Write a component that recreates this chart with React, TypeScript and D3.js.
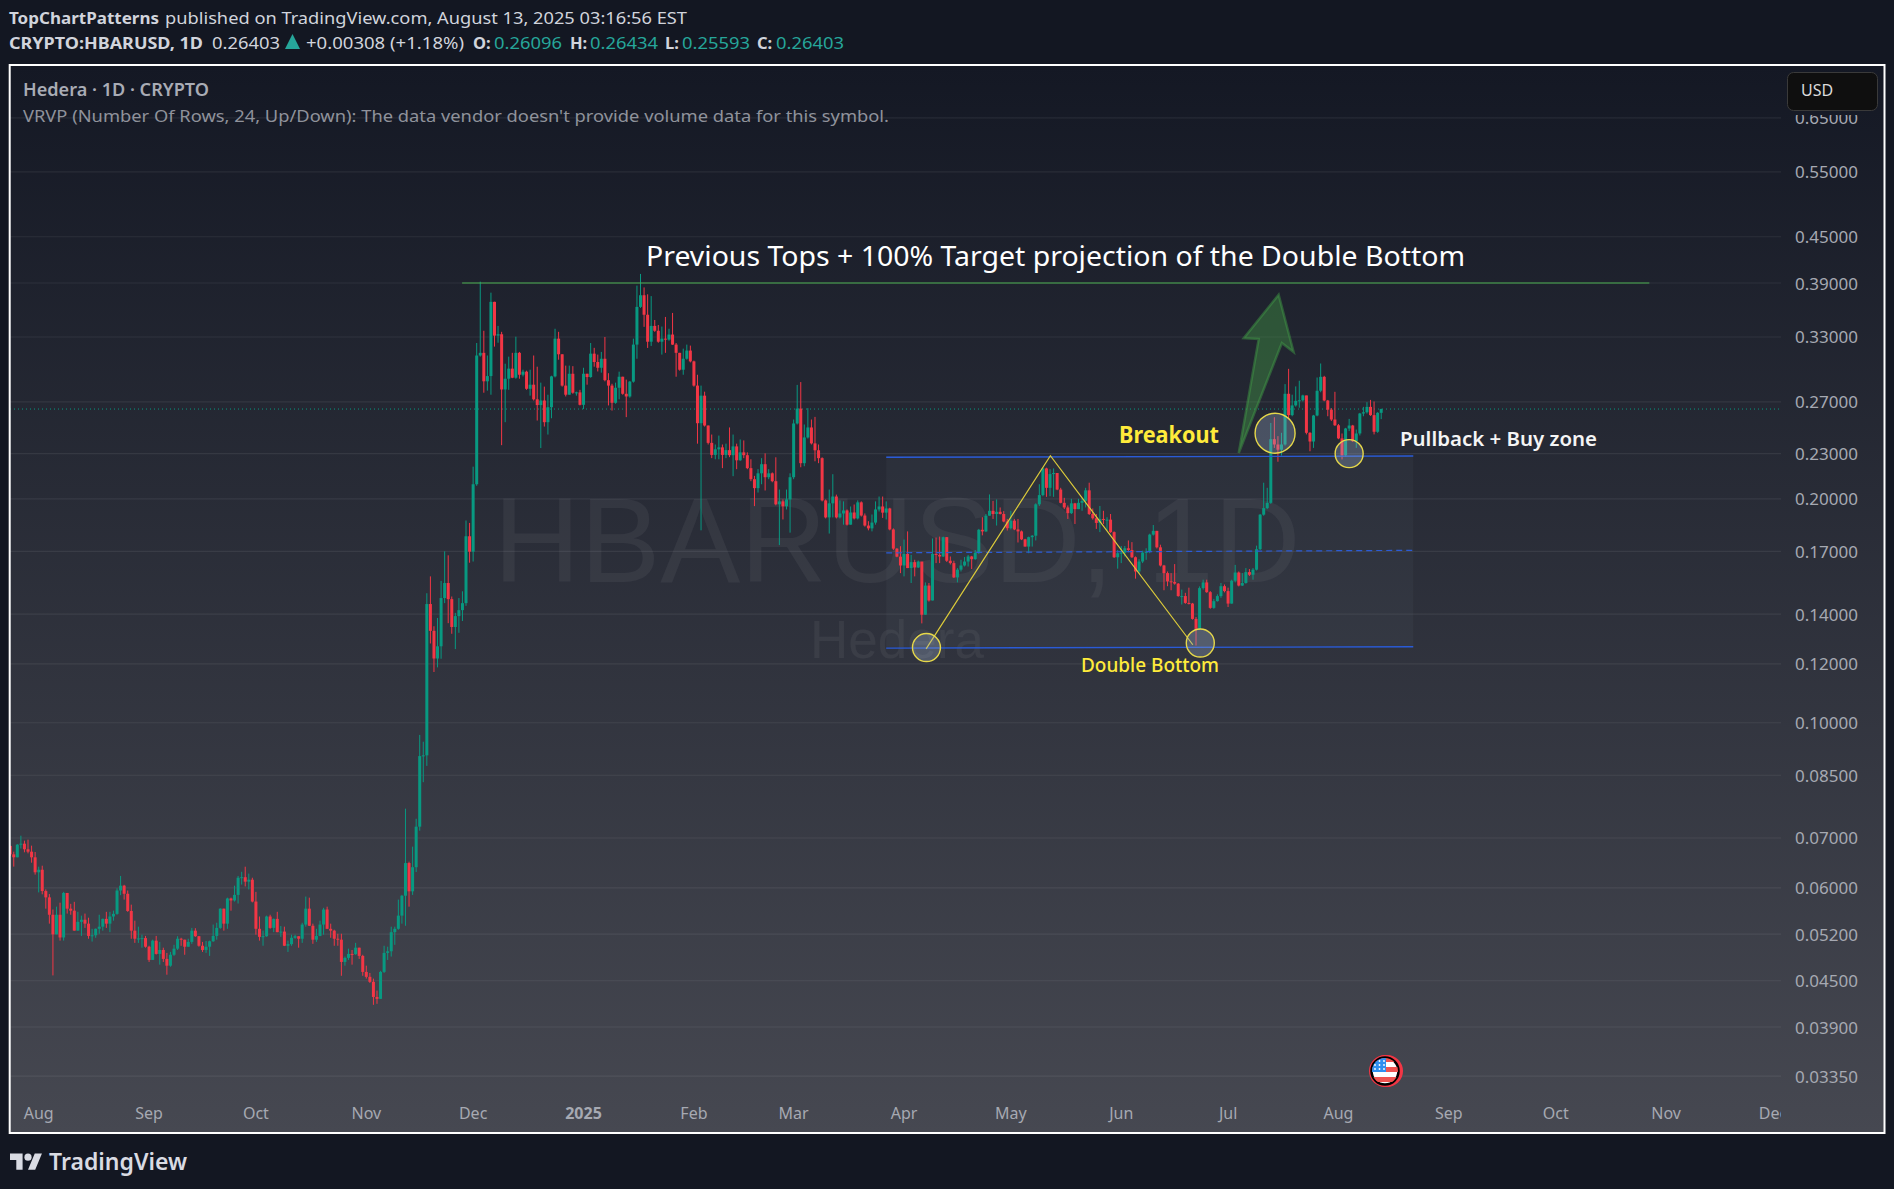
import React from "react";
import * as d3 from "d3";

const W = 1894, H = 1189;

// Daily OHLC of CRYPTO:HBARUSD, first bar 24 Jul 2024, last bar 13 Aug 2025. Open = previous close.
const firstOpen = 0.0683;
const closes = [
.06655,.06594,.06857,.06878,.06760,.06710,.06594,.06295,.06345,.05940,
.05825,.05520,.05195,.05520,.05145,.05905,.05625,.05590,.05255,.05400,
.05435,.05370,.05170,.05180,.05285,.05320,.05450,.05370,.05490,.05535,
.05950,.06040,.05890,.05585,.05255,.05125,.05130,.05135,.05000,.04800,
.05095,.04890,.04950,.04815,.04715,.04877,.04970,.05125,.05110,.05000,
.05075,.05255,.05165,.05015,.04950,.05000,.05085,.05170,.05300,.05625,
.05370,.05805,.05770,.05870,.06190,.06200,.06115,.06152,.05750,.05285,
.05155,.05165,.05490,.05300,.05450,.05230,.05240,.05015,.05040,.05140,
.05165,.05125,.05355,.05625,.05335,.05110,.05170,.05355,.05610,.05285,
.05255,.05125,.05110,.04770,.04830,.04890,.04885,.04985,.04860,.04625,
.04555,.04485,.04280,.04255,.04625,.04905,.04930,.05230,.05285,.05505,
.05855,.06478,.05935,.06395,.07250,.0902,.0904,.1444,.1329,.1220,
.1267,.1471,.1541,.1466,.1345,.1391,.1417,.1448,.1781,.1698,
.2092,.3116,.3142,.2877,.2924,.3679,.3314,.3328,.2805,.2900,
.2992,.2909,.3142,.2936,.2964,.2811,.2847,.2721,.2673,.2711,
.2535,.2655,.2921,.3283,.3128,.2839,.2760,.2945,.2777,.2780,
.2675,.2945,.2915,.3134,.3054,.3000,.3085,.2887,.2839,.2692,
.2820,.2918,.2768,.2745,.2874,.3223,.3622,.3755,.3535,.3252,
.3415,.3364,.3252,.3283,.3273,.3325,.3223,.3142,.2982,.3085,
.3164,.3060,.2839,.2527,.2752,.2509,.2378,.2291,.2331,.2345,
.2291,.2325,.2289,.2352,.2253,.2309,.2289,.2199,.2125,.2067,
.2164,.2226,.2138,.2164,.2112,.1966,.1984,.1954,.1996,.2138,
.2525,.2644,.2233,.2418,.2494,.2374,.2324,.2268,.1990,.1888,
.1972,.2014,.1888,.1911,.1929,.1846,.1917,.1882,.1978,.1899,
.1841,.1825,.1858,.1935,.1953,.1916,.1941,.1819,.1714,.1672,
.1627,.1686,.1614,.1644,.1617,.1647,.1397,.1529,.1460,.1686,
.1681,.1673,.1776,.1651,.1639,.1568,.1606,.1627,.1647,.1673,
.1659,.1693,.1817,.1808,.1898,.1927,.1908,.1921,.1908,.1864,
.1826,.1869,.1819,.1808,.1764,.1725,.1776,.1784,.1966,.2023,
.2197,.2069,.2159,.2166,.2058,.1975,.1947,.1913,.1972,.1937,
.1975,.1987,.2053,.1908,.1883,.1856,.1879,.1875,.1875,.1804,
.1669,.1690,.1693,.1716,.1707,.1669,.1597,.1647,.1693,.1697,
.1790,.1811,.1721,.1627,.1589,.1549,.1546,.1538,.1480,.1480,
.1449,.1446,.1379,.1337,.1517,.1544,.1498,.1427,.1457,.1480,
.1526,.1503,.1446,.1552,.1592,.1529,.1541,.1594,.1581,.1606,
.1711,.1904,.1943,.1975,.2405,.2366,.2328,.2366,.2768,.2591,
.2670,.2708,.2713,.2754,.2453,.2388,.2588,.2794,.2917,.2711,
.2635,.2556,.2511,.2411,.2288,.2486,.2509,.2390,.2448,.2604,
.2614,.2658,.2591,.2461,.26096,.26403];

const highs = [
.06836,.0671,.0687,.0705,.06943,.06964,.06836,.06703,.06405,.06425,
.0597,.05885,.0561,.0566,.0573,.05925,.05905,.0571,.05745,.0557,
.05505,.0554,.0547,.05285,.0529,.0552,.05455,.0557,.0557,.0559,
.0599,.06225,.06055,.0595,.05695,.0542,.0532,.0519,.0517,.05015,
.0511,.0517,.05075,.04985,.04905,.0492,.0503,.05165,.0514,.0511,
.05125,.053,.05295,.0517,.05075,.0509,.05095,.05355,.05385,.0563,
.05625,.0582,.0582,.0604,.06225,.06305,.06405,.0627,.0619,.05925,
.0549,.05255,.05505,.0552,.05455,.0557,.0533,.0532,.05095,.0519,
.0519,.05165,.05385,.0584,.0582,.0537,.05285,.0542,.0564,.0566,
.0537,.0527,.05205,.05205,.0485,.0497,.0495,.0506,.04985,.04877,
.04715,.0461,.0453,.04365,.0464,.05015,.05,.0532,.0532,.05785,
.0587,.07665,.06505,.06815,.0743,.0963,.0943,.1493,.1573,.1348,
.1383,.1551,.17,.1679,.1478,.1405,.1471,.1502,.187,.1856,
.2209,.3239,.3916,.3364,.3116,.3785,.368,.3415,.3353,.3038,
.3105,.3142,.3303,.3151,.2982,.2973,.2982,.3116,.301,.2865,
.283,.276,.2927,.3385,.3353,.3128,.302,.302,.3015,.2786,
.2802,.3,.2945,.3239,.3191,.3125,.3151,.33,.295,.2855,
.2865,.2964,.2918,.2892,.288,.3283,.3869,.4011,.3847,.3766,
.3745,.3478,.3425,.3408,.3511,.3385,.3555,.3239,.3142,.3183,
.3223,.3213,.3067,.2936,.2839,.2786,.2509,.244,.2366,.2432,
.2366,.2372,.2494,.244,.2372,.2403,.2396,.2309,.226,.2147,
.2192,.2268,.2302,.2192,.217,.2274,.2058,.1996,.2058,.2164,
.2556,.2845,.287,.2517,.2648,.2556,.2577,.2366,.2274,.1996,
.2058,.2158,.2026,.199,.1984,.1935,.1953,.1965,.199,.1984,
.1911,.1866,.1905,.1984,.2014,.2014,.1984,.1945,.1825,.1717,
.1727,.1763,.1808,.1681,.1656,.1652,.1622,.1544,.1541,.1769,
.1774,.1779,.1779,.1776,.1673,.1651,.1614,.1656,.167,.1681,
.1676,.1707,.1822,.1889,.1908,.2027,.1987,.1996,.1947,.1925,
.1879,.1927,.1879,.1879,.1813,.1767,.1779,.1788,.1972,.2092,
.2202,.2202,.2192,.2197,.2166,.2069,.2006,.1959,.2,.1975,
.2,.2006,.2069,.2102,.1941,.1908,.1956,.1927,.1889,.1908,
.1808,.1707,.1728,.1728,.1758,.1749,.1673,.1659,.1703,.1716,
.1795,.1844,.1811,.1735,.163,.1597,.1589,.1634,.1541,.151,
.1495,.1519,.1449,.1387,.1525,.1557,.1557,.1503,.1467,.1488,
.1541,.1534,.1519,.1557,.163,.1597,.1589,.1614,.1609,.1614,
.173,.1908,.2102,.2069,.2529,.2574,.2428,.2453,.2852,.299,
.276,.2832,.2882,.276,.2752,.2458,.2593,.2911,.304,.2926,
.2716,.2648,.2785,.2521,.2448,.2491,.2561,.2514,.2478,.2609,
.2658,.2697,.2716,.2703,.2615,.26434];

const lows = [
.0662,.06407,.06594,.06775,.06697,.06675,.06485,.0625,.05915,.0588,
.05625,.0537,.04575,.05195,.05095,.05095,.0554,.0552,.05255,.05255,
.0517,.053,.05125,.0508,.0514,.05205,.05255,.053,.0523,.0542,
.0552,.05865,.05785,.0557,.05125,.0506,.0506,.04985,.04985,.0477,
.048,.0488,.0473,.0477,.04585,.047,.0486,.0495,.05015,.04877,
.05,.05045,.05155,.05,.0492,.04905,.0486,.05075,.0511,.05285,
.05255,.05285,.0559,.0575,.05715,.0606,.06025,.0597,.05735,.0519,
.05095,.05015,.05155,.05285,.0523,.0523,.05155,.0501,.0492,.05015,
.05125,.04985,.0506,.0532,.0533,.05045,.05075,.05165,.0519,.0528,
.0514,.05015,.05015,.0457,.04715,.048,.0473,.04877,.04815,.0457,
.0453,.0447,.04177,.0419,.04255,.0461,.048,.0485,.0503,.0527,
.0537,.05335,.0566,.0587,.063,.0716,.0832,.0875,.1278,.117,
.1187,.1219,.1448,.1361,.1317,.1256,.1321,.137,.1436,.1641,
.1647,.2082,.3105,.2777,.2795,.276,.3203,.3242,.2361,.2535,
.2802,.2905,.29,.29,.2921,.2802,.2752,.2711,.2548,.234,
.2501,.244,.2566,.2912,.3076,.283,.2745,.276,.2768,.2752,
.267,.264,.2847,.2909,.301,.2966,.2955,.2877,.267,.2628,
.2684,.2721,.276,.2575,.2735,.2865,.3085,.361,.3405,.319,
.321,.3353,.3242,.3125,.3142,.3262,.322,.2918,.2973,.2936,
.3076,.305,.283,.2372,.1814,.2501,.2366,.2268,.226,.226,
.2199,.2268,.2275,.2145,.2192,.2249,.2268,.2192,.2112,.1955,
.2039,.2092,.2052,.2125,.2105,.196,.1733,.1876,.1935,.1801,
.2125,.2517,.2205,.2212,.241,.2366,.2246,.2233,.1984,.1882,
.1796,.1888,.1882,.1882,.1846,.1841,.1846,.1876,.1876,.1893,
.1835,.1814,.1808,.1846,.1923,.1885,.1876,.1814,.1707,.1669,
.1589,.1573,.1614,.1541,.1573,.1614,.136,.1397,.1455,.146,
.1639,.1639,.167,.1645,.1632,.1565,.1544,.1597,.1622,.1622,
.1609,.1656,.1686,.1786,.1804,.1898,.1879,.1841,.1905,.186,
.1813,.1819,.1815,.1747,.176,.1725,.169,.1725,.1758,.1956,
.2016,.2012,.2016,.2012,.2054,.1972,.1937,.1879,.1908,.185,
.1937,.1927,.1947,.1902,.1875,.1822,.1804,.185,.1813,.18,
.1665,.1611,.1639,.1673,.1695,.1665,.1562,.1589,.1639,.1656,
.169,.1785,.1715,.1622,.1507,.1526,.1507,.1533,.1477,.1442,
.1445,.1442,.1376,.127,.1333,.151,.1495,.1423,.1423,.1455,
.1472,.1497,.1431,.1446,.1544,.1525,.1527,.1538,.1575,.1557,
.1602,.1707,.1898,.1937,.1969,.2341,.2243,.2286,.2358,.2556,
.2582,.266,.2651,.2703,.2441,.2317,.2341,.2582,.2781,.2705,
.2582,.2544,.2505,.2405,.2259,.2276,.2466,.2385,.2341,.2433,
.2582,.2604,.2585,.2441,.2453,.25593];

const priceTicks = [0.65,0.55,0.45,0.39,0.33,0.27,0.23,0.20,0.17,0.14,0.12,0.10,0.085,0.07,0.06,0.052,0.045,0.039,0.0335];
const timeTicks: [string, number, boolean][] = [
  ["Aug",8,false],["Sep",39,false],["Oct",69,false],["Nov",100,false],["Dec",130,false],["2025",161,true],
  ["Feb",192,false],["Mar",220,false],["Apr",251,false],["May",281,false],["Jun",312,false],["Jul",342,false],
  ["Aug",373,false],["Sep",404,false],["Oct",434,false],["Nov",465,false],["Dec",495,false],
];

// Drawings as [bar index, price]
const targetLine: [number, number][] = [[126.9,0.39],[460.3,0.39]];
const rangeTop: [number, number][] = [[246,0.2274],[394,0.2283]];
const rangeMid: [number, number][] = [[246,0.1692],[394,0.1705]];
const rangeBottom: [number, number][] = [[246,0.1260],[394,0.1265]];
const doubleBottom: [number, number][] = [[257.2,0.1257],[292.1,0.2285],[332.1,0.1273]];
const circles: [number, number, number][] = [[257.3,0.1262,14],[334.2,0.1280,14],[355.2,0.2450,20],[376,0.2300,14]];
const arrow: [number, number][] = [[345,0.2305],[350.6,0.3280],[346.4,0.3288],[356.2,0.3760],[360.4,0.3150],[357.1,0.3238]];

const x = d3.scaleLinear().domain([0, 385]).range([10.2, 1381.2]);
const y = d3.scaleLog().domain([0.39, 0.039]).range([283, 1027]);
const UI = "'Noto Sans', 'Open Sans', sans-serif";
const line = d3.line<[number, number]>().x(d => x(d[0])).y(d => y(d[1]));

const GREEN = "#089981", RED = "#f23645", BLUE = "#2a5bd7", YEL = "#ffeb3b";
const fmt = (p: number) => p.toFixed(5);
const starCols = [0, 1, 2];

export default function App() {
  const lastY = y(closes[closes.length - 1]);
  return (
    <svg width={W} height={H} viewBox={`0 0 ${W} ${H}`} style={{ position: "absolute", left: 0, top: 0, display: "block" }} fontFamily={UI}>
      <defs>
        <linearGradient id="pane" x1="0" y1="0" x2="0" y2="1">
          <stop offset="0" stopColor="#141824" />
          <stop offset="1" stopColor="#464851" />
        </linearGradient>
        <clipPath id="plot"><rect x={10} y={66} width={1771} height={1066} /></clipPath>
        <clipPath id="time"><rect x={10} y={1090} width={1771} height={42} /></clipPath>
        <clipPath id="flag"><circle cx={1385} cy={1071} r={13} /></clipPath>
        <clipPath id="prices"><rect x={1785} y={115} width={98} height={1000} /></clipPath>
      </defs>
      <rect width={W} height={H} fill="#131722" />
      <rect x={10} y={66} width={1874} height={1066} fill="url(#pane)" />

      {priceTicks.map(p => (
        <line key={p} x1={10} x2={1781} y1={y(p)} y2={y(p)} stroke="#ffffff" strokeOpacity={0.07} strokeWidth={1.2} />
      ))}

      <g fill="#ffffff" fillOpacity={0.055} fontFamily="'Liberation Sans', sans-serif" textAnchor="middle">
        <text x={897} y={582} fontSize={120}>HBARUSD, 1D</text>
        <text x={897} y={658} fontSize={53}>Hedera</text>
      </g>

      <rect x={x(rangeTop[0][0])} y={y(rangeTop[1][1])} width={x(rangeTop[1][0]) - x(rangeTop[0][0])} height={y(rangeBottom[1][1]) - y(rangeTop[1][1])} fill="#787b86" fillOpacity={0.08} />

      <line x1={10} x2={1781} y1={lastY} y2={lastY} stroke={GREEN} strokeWidth={1} strokeDasharray="1 3" />

      <g clipPath="url(#plot)">
        {closes.map((c, i) => {
          const o = i === 0 ? firstOpen : closes[i - 1];
          const col = c >= o ? GREEN : RED;
          const top = y(Math.max(o, c)), bot = y(Math.min(o, c));
          return (
            <g key={i}>
              <line x1={x(i)} x2={x(i)} y1={y(highs[i])} y2={y(lows[i])} stroke={col} strokeWidth={1} />
              <rect x={x(i) - 1.5} y={top} width={3} height={Math.max(bot - top, 1)} fill={col} />
            </g>
          );
        })}
      </g>

      <path d={line(targetLine)!} stroke="#4caf50" strokeWidth={1.2} fill="none" />
      <path d={line(rangeTop)!} stroke={BLUE} strokeWidth={1.4} fill="none" />
      <path d={line(rangeBottom)!} stroke={BLUE} strokeWidth={1.4} fill="none" />
      <path d={line(rangeMid)!} stroke={BLUE} strokeWidth={1.2} strokeDasharray="6 4" fill="none" />
      <path d={line(doubleBottom)!} stroke="#dccb3a" strokeWidth={1.2} fill="none" />
      <path d={line(arrow)! + "Z"} fill="#43a047" fillOpacity={0.4} stroke="#43a047" strokeOpacity={0.45} strokeWidth={2.5} strokeLinejoin="miter" />
      {circles.map((c, i) => (
        <circle key={i} cx={x(c[0])} cy={y(c[1])} r={c[2]} fill="#a0b4d2" fillOpacity={0.3} stroke="#e6d84a" strokeWidth={1.4} />
      ))}

      <text x={646} y={266} fontSize={27} fill="#ffffff" textLength={819} lengthAdjust="spacingAndGlyphs">Previous Tops + 100% Target projection of the Double Bottom</text>
      <text x={1119} y={443} fontSize={23} fontWeight={700} fill={YEL} textLength={100} lengthAdjust="spacingAndGlyphs">Breakout</text>
      <text x={1081} y={672} fontSize={20} fontWeight={500} fill={YEL} textLength={138} lengthAdjust="spacingAndGlyphs">Double Bottom</text>
      <text x={1400} y={446} fontSize={20} fontWeight={600} fill="#f5f5f5" textLength={197} lengthAdjust="spacingAndGlyphs">Pullback + Buy zone</text>

      <g clipPath="url(#time)" fontSize={16} fill="#a6a9b2" textAnchor="middle">
        {timeTicks.map(([t, i, b], k) => (
          <text key={k} x={x(i)} y={1119} fontWeight={b ? 700 : 400}>{t}</text>
        ))}
      </g>

      <g fontSize={16.5} fill="#a6a9b2" clipPath="url(#prices)">
        {priceTicks.map(p => <text key={p} x={1795} y={y(p) + 6.5} textLength={63} lengthAdjust="spacingAndGlyphs">{fmt(p)}</text>)}
      </g>

      <rect x={1787.5} y={72.5} width={90} height={38} rx={6} fill="#0f0f0f" stroke="#3a3a3a" />
      <text x={1801} y={96} fontSize={16} fill="#dbdbdb">USD</text>

      {/* economic event marker */}
      <circle cx={1387} cy={1071} r={16} fill={RED} />
      <circle cx={1385} cy={1071} r={16} fill={RED} />
      <circle cx={1385} cy={1071} r={13.5} fill="#ffffff" stroke="#000000" strokeWidth={2.5} />
      <g clipPath="url(#flag)">
        <rect x={1371} y={1057} width={28} height={5} fill="#ef5350" />
        <rect x={1371} y={1067} width={28} height={5} fill="#ef5350" />
        <rect x={1371} y={1077} width={28} height={5} fill="#ef5350" />
        <rect x={1371} y={1057} width={15} height={15} fill="#2f8ff0" />
        {starCols.map(a => starCols.map(b => (
          <circle key={`${a}${b}`} cx={1375 + a * 4.5} cy={1061 + b * 4} r={0.9} fill="#ffffff" />
        )))}
      </g>

      <text x={9} y={24} fontSize={16.5} fontWeight={700} fill="#d1d4dc" textLength={150} lengthAdjust="spacingAndGlyphs">TopChartPatterns</text>
      <text x={165} y={24} fontSize={16.5} fill="#d1d4dc" textLength={522} lengthAdjust="spacingAndGlyphs">published on TradingView.com, August 13, 2025 03:16:56 EST</text>
      <text x={9} y={49} fontSize={16.5} fontWeight={700} fill="#d1d4dc" textLength={194} lengthAdjust="spacingAndGlyphs">CRYPTO:HBARUSD, 1D</text>
      <text x={212} y={49} fontSize={16.5} fill="#d1d4dc" textLength={68} lengthAdjust="spacingAndGlyphs">0.26403</text>
      <path d="M285 49 L292.5 34 L300 49 Z" fill="#26a69a" />
      <text x={306} y={49} fontSize={16.5} fill="#d1d4dc" textLength={158} lengthAdjust="spacingAndGlyphs">+0.00308 (+1.18%)</text>
      <g fontSize={16.5}>
        <text x={473} y={49} fontWeight={700} fill="#d1d4dc">O:</text><text x={494} y={49} fill="#26a69a" textLength={68} lengthAdjust="spacingAndGlyphs">0.26096</text>
        <text x={570} y={49} fontWeight={700} fill="#d1d4dc">H:</text><text x={590} y={49} fill="#26a69a" textLength={68} lengthAdjust="spacingAndGlyphs">0.26434</text>
        <text x={665} y={49} fontWeight={700} fill="#d1d4dc">L:</text><text x={682} y={49} fill="#26a69a" textLength={68} lengthAdjust="spacingAndGlyphs">0.25593</text>
        <text x={757} y={49} fontWeight={700} fill="#d1d4dc">C:</text><text x={776} y={49} fill="#26a69a" textLength={68} lengthAdjust="spacingAndGlyphs">0.26403</text>
      </g>

      <text x={23} y={96} fontSize={17} fontWeight={600} fill="#a9acb5" textLength={186} lengthAdjust="spacingAndGlyphs">Hedera · 1D · CRYPTO</text>
      <text x={23} y={122} fontSize={17} fill="#8f929b" textLength={866} lengthAdjust="spacingAndGlyphs">VRVP (Number Of Rows, 24, Up/Down): The data vendor doesn't provide volume data for this symbol.</text>

      <rect x={9.7} y={65} width={1874.8} height={1068} fill="none" stroke="#ffffff" strokeWidth={2} />

      <g transform="translate(10,1150) scale(0.9)" fill="#d9dbe3">
        <path d="M14 22H7V11H0V4h14v18zM28 22h-8l7.5-18h8L28 22z" />
        <circle cx={20} cy={8} r={4} />
      </g>
      <text x={49} y={1170} fontSize={23} fontWeight={600} fill="#d9dbe3" textLength={138} lengthAdjust="spacingAndGlyphs">TradingView</text>
    </svg>
  );
}
